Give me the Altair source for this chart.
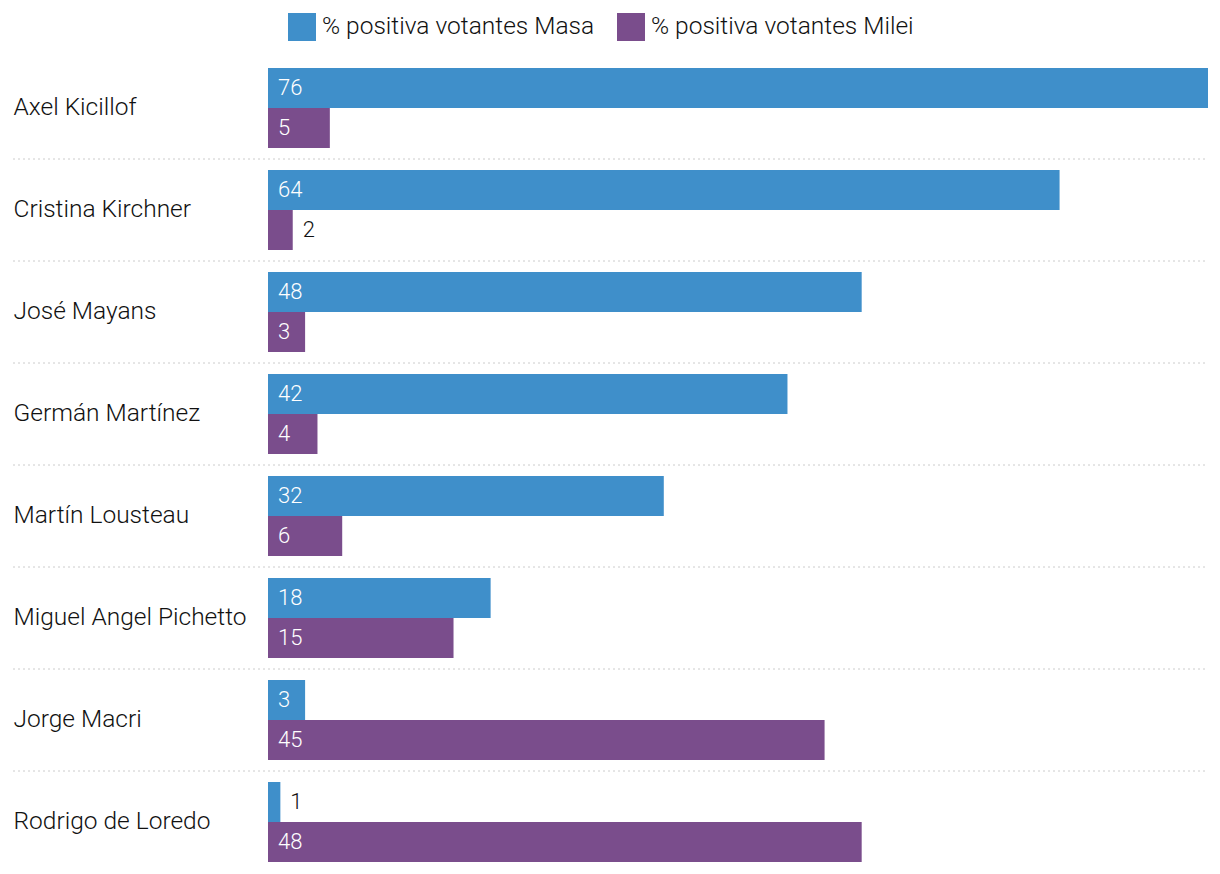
import altair as alt
import pandas as pd

names = ["Axel Kicillof", "Cristina Kirchner", "José Mayans", "Germán Martínez",
         "Martín Lousteau", "Miguel Angel Pichetto", "Jorge Macri", "Rodrigo de Loredo"]
masa = [76, 64, 48, 42, 32, 18, 3, 1]
milei = [5, 2, 3, 4, 6, 15, 45, 48]
series = ["% positiva votantes Masa", "% positiva votantes Milei"]
colors = ["#3f8fca", "#7a4d8c"]

rows = []
for n, a, b in zip(names, masa, milei):
    rows.append({"name": n, "serie": series[0], "value": a})
    rows.append({"name": n, "serie": series[1], "value": b})
df = pd.DataFrame(rows)
df["inside"] = df["value"] >= 3

sep = pd.DataFrame({"name": names[:-1]})

FONT = "Roboto"
W, H = 940, 816

y_enc = alt.Y("name:N", sort=names, title=None,
              scale=alt.Scale(paddingInner=0, paddingOuter=0),
              axis=alt.Axis(labelAlign="left", labelPadding=255, labelFontSize=24.5,
                            labelFont=FONT, labelFontWeight=300, labelColor="#111",
                            ticks=False, domain=False, labelLimit=300))
yoff = alt.YOffset("serie:N", sort=series, scale=alt.Scale(paddingInner=0, paddingOuter=0.275))
x_enc = alt.X("value:Q", scale=alt.Scale(domain=[0, 76], nice=False), axis=None)

base = alt.Chart(df)

bars = base.mark_bar().encode(
    y=y_enc, yOffset=yoff, x=x_enc,
    color=alt.Color("serie:N", sort=series,
                    scale=alt.Scale(domain=series, range=colors),
                    legend=alt.Legend(title=None, orient="none", direction="horizontal",
                                      legendX=20, legendY=-44, symbolType="square",
                                      symbolSize=784, symbolStrokeWidth=0,
                                      symbolOpacity=1, labelFontSize=24.5, labelFont=FONT,
                                      labelFontWeight=300, labelLimit=0,
                                      labelColor="#111", labelOffset=6, columnPadding=22)),
)

txt_in = base.transform_filter("datum.inside").mark_text(
    align="left", baseline="middle", dx=10, fontSize=22, font=FONT, fontWeight=300,
    color="white"
).encode(y=alt.Y("name:N", sort=names), yOffset=yoff, x=alt.datum(0), text="value:Q")

txt_out = base.transform_filter("!datum.inside").mark_text(
    align="left", baseline="middle", dx=10, fontSize=22, font=FONT, fontWeight=300,
    color="#111"
).encode(y=alt.Y("name:N", sort=names), yOffset=yoff, x="value:Q", text="value:Q")

rules = alt.Chart(sep).mark_rule(color="#cccccc", strokeDash=[2, 3], strokeWidth=1).encode(
    y=alt.Y("name:N", sort=names, bandPosition=1),
    x=alt.value(-255), x2=alt.value(W),
)

chart = alt.layer(rules, bars, txt_in, txt_out).properties(
    width=W, height=H, padding={"left": 4, "top": 5, "right": 0, "bottom": 0}
).configure_view(stroke=None)

chart.save("out.html", embed_options={"renderer": "svg", "actions": False})
